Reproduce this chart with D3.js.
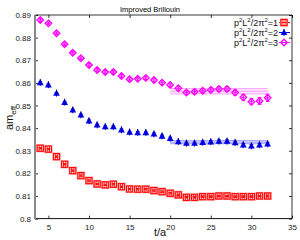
<!DOCTYPE html>
<html><head><meta charset="utf-8">
<script src="https://cdn.jsdelivr.net/npm/d3@7"></script>
<style>body{margin:0;background:#fff}svg{display:block;font-family:"Liberation Sans",Arial,sans-serif}</style>
</head><body><svg id="c" width="300" height="240"></svg>
<script>
const tVals = d3.range(4, 33);
const redVals = [0.8311,0.8307,0.8274,0.8240,0.8212,0.8190,0.8168,0.8153,0.8149,0.8152,0.8141,0.8131,0.8130,0.8130,0.8124,0.8119,0.8112,0.8105,0.8094,0.8094,0.8097,0.8097,0.8100,0.8100,0.8097,0.8097,0.8097,0.8100,0.8100];
const redErr = [0.0003,0.0003,0.0003,0.0003,0.0003,0.0003,0.0003,0.0003,0.0003,0.0003,0.0003,0.0003,0.0003,0.0003,0.0003,0.0003,0.0003,0.0003,0.0003,0.0003,0.0003,0.0003,0.0003,0.0003,0.0003,0.0003,0.0003,0.0003,0.0004];
const blueVals = [0.8601,0.8591,0.8554,0.8514,0.8480,0.8458,0.8432,0.8414,0.8406,0.8406,0.8392,0.8382,0.8380,0.8380,0.8374,0.8365,0.8355,0.8340,0.8333,0.8333,0.8337,0.8339,0.8342,0.8342,0.8336,0.8326,0.8321,0.8326,0.8330];
const blueErr = [0.0004,0.0004,0.0004,0.0004,0.0004,0.0004,0.0004,0.0004,0.0004,0.0004,0.0004,0.0004,0.0004,0.0004,0.0005,0.0005,0.0005,0.0005,0.0005,0.0005,0.0005,0.0005,0.0006,0.0006,0.0006,0.0006,0.0007,0.0007,0.0007];
const magVals = [0.8878,0.8863,0.8819,0.8771,0.8733,0.8709,0.8679,0.8657,0.8648,0.8648,0.8630,0.8616,0.8618,0.8622,0.8613,0.8601,0.8591,0.8576,0.8557,0.8561,0.8565,0.8569,0.8573,0.8573,0.8557,0.8536,0.8517,0.8520,0.8534];
const magErr = [0.0006,0.0006,0.0006,0.0006,0.0006,0.0006,0.0006,0.0006,0.0006,0.0006,0.0007,0.0007,0.0007,0.0007,0.0008,0.0008,0.0008,0.0009,0.0009,0.0009,0.0010,0.0010,0.0011,0.0011,0.0012,0.0013,0.0014,0.0015,0.0016];
const fitRange = [20, 32];
const fitRed = [0.8098, 0.0003];
const fitBlue = [0.8338, 0.0007];
const fitMag = [0.8563, 0.0012];
const xTicks = [5,10,15,20,25,30,35];
const yTicks = [0.80,0.81,0.82,0.83,0.84,0.85,0.86,0.87,0.88,0.89];
const legendLabels = ["1","2","3"];

const svg = d3.select("#c");
const L=35,R=292,T=15,B=218.6;
const x = d3.scaleLinear().domain([3.35,35]).range([L,R]);
const y = d3.scaleLinear().domain([0.80,0.89]).range([B,T]);

svg.append("text").attr("x",150).attr("y",11.5).attr("text-anchor","middle").attr("font-size",7.5).attr("fill","#000").text("Improved Brillouin");

svg.append("line").attr("x1",L).attr("x2",R).attr("y1",T).attr("y2",T).attr("stroke","#000").attr("stroke-width",0.8);
svg.append("line").attr("x1",R).attr("x2",R).attr("y1",T).attr("y2",B).attr("stroke","#000").attr("stroke-width",0.8);

const xa = svg.append("g").attr("transform",`translate(0,${B})`)
  .call(d3.axisBottom(x).tickValues(xTicks).tickSize(-3).tickPadding(6).tickFormat(d3.format("d")));
const xt = svg.append("g").attr("transform",`translate(0,${T})`)
  .call(d3.axisTop(x).tickValues(xTicks).tickSize(-3).tickFormat(""));
const ya = svg.append("g").attr("transform",`translate(${L},0)`)
  .call(d3.axisLeft(y).tickValues(yTicks).tickSize(-3).tickPadding(4).tickFormat(d=>d===0.8?"0.8":d3.format(".2f")(d)));
const yr = svg.append("g").attr("transform",`translate(${R},0)`)
  .call(d3.axisRight(y).tickValues(yTicks).tickSize(-3).tickFormat(""));
[xa,xt,ya,yr].forEach(g=>{g.select(".domain").remove();g.selectAll("text").attr("font-size",8).attr("fill","#222").attr("font-family","Liberation Sans, Arial, sans-serif");g.selectAll("line").attr("stroke","#000").attr("stroke-width",0.8);});
svg.append("line").attr("x1",L).attr("x2",R).attr("y1",B).attr("y2",B).attr("stroke","#111").attr("stroke-width",1);
svg.append("line").attr("x1",L).attr("x2",L).attr("y1",T).attr("y2",B+0.5).attr("stroke","#888").attr("stroke-width",2);

svg.append("text").attr("x",160).attr("y",236).attr("text-anchor","middle").attr("font-size",11).attr("fill","#111").text("t/a");
const yl = svg.append("text").attr("transform","translate(13,118) rotate(-90)").attr("text-anchor","middle").attr("font-size",11).attr("fill","#111");
yl.append("tspan").text("am");
yl.append("tspan").attr("font-size",8).attr("dy",3).text("eff");

function band(fit,col){
  const g=svg.append("g");
  const [c,e]=fit;
  g.append("rect").attr("x",x(fitRange[0])).attr("width",x(fitRange[1])-x(fitRange[0]))
    .attr("y",y(c+e)).attr("height",y(c-e)-y(c+e)).attr("fill",col).attr("opacity",0.1);
  [c-e,c,c+e].forEach(v=>g.append("line").attr("x1",x(fitRange[0])).attr("x2",x(fitRange[1]))
    .attr("y1",y(v)).attr("y2",y(v)).attr("stroke",col).attr("stroke-width",0.8).attr("opacity",0.4));
}
band(fitRed,"#ff0000");band(fitBlue,"#0000ff");band(fitMag,"#ff00ff");

function errbars(vals,errs,col){
  const g=svg.append("g").attr("stroke",col).attr("stroke-width",1);
  vals.forEach((v,i)=>{
    const t=tVals[i], px=x(t);
    g.append("line").attr("x1",px).attr("x2",px).attr("y1",y(v+errs[i])).attr("y2",y(v-errs[i]));
    [v+errs[i],v-errs[i]].forEach(w=>g.append("line").attr("x1",px-1.8).attr("x2",px+1.8).attr("y1",y(w)).attr("y2",y(w)));
  });
}
function square(g,px,py,col){
  g.append("rect").attr("x",px-3.1).attr("y",py-3.1).attr("width",6.2).attr("height",6.2).attr("fill","none").attr("stroke","#ffa0a0").attr("stroke-width",2);
  g.append("rect").attr("x",px-3.1).attr("y",py-3.1).attr("width",6.2).attr("height",6.2).attr("fill","none").attr("stroke",col).attr("stroke-width",1);
  g.append("line").attr("x1",px-1.1).attr("x2",px-1.1).attr("y1",py-2.8).attr("y2",py+2.8).attr("stroke",col).attr("stroke-width",0.8);
  g.append("line").attr("x1",px+1.1).attr("x2",px+1.1).attr("y1",py-2.8).attr("y2",py+2.8).attr("stroke",col).attr("stroke-width",0.8);
}
function tri(g,px,py,col){
  g.append("path").attr("d",`M${px},${py-3.6}L${px+3.4},${py+2.6}L${px-3.4},${py+2.6}Z`).attr("fill",col);
  g.append("line").attr("x1",px).attr("x2",px).attr("y1",py-3.6).attr("y2",py+3.3).attr("stroke","#000090").attr("stroke-width",1);
}
function diamond(g,px,py,col){
  g.append("path").attr("d",`M${px},${py-3.3}L${px+3.3},${py}L${px},${py+3.3}L${px-3.3},${py}Z`).attr("fill","none").attr("stroke",col).attr("stroke-width",1.3);
  g.append("line").attr("x1",px-1.8).attr("x2",px+1.8).attr("y1",py).attr("y2",py).attr("stroke",col).attr("stroke-width",1);
}
errbars(redVals,redErr,"#ff0000");
errbars(blueVals,blueErr,"#0000ff");
errbars(magVals,magErr,"#ff00ff");
const gr=svg.append("g"), gb=svg.append("g"), gm=svg.append("g");
redVals.forEach((v,i)=>square(gr,x(tVals[i]),y(v),"#ff0000"));
blueVals.forEach((v,i)=>tri(gb,x(tVals[i]),y(v),"#0000ff"));
magVals.forEach((v,i)=>diamond(gm,x(tVals[i]),y(v),"#ff00ff"));

const cols=["#ff0000","#0000ff","#ff00ff"], fns=[square,tri,diamond];
legendLabels.forEach((lab,i)=>{
  const ly=22.5+i*10;
  const tx=svg.append("text").attr("x",278).attr("y",ly+3.5).attr("text-anchor","end").attr("font-size",9).attr("fill","#111");
  tx.append("tspan").text("p");
  tx.append("tspan").attr("font-size",6).attr("dy",-4).text("2");
  tx.append("tspan").attr("dy",4).text("L");
  tx.append("tspan").attr("font-size",6).attr("dy",-4).text("2");
  tx.append("tspan").attr("dy",4).text("/2π");
  tx.append("tspan").attr("font-size",6).attr("dy",-4).text("2");
  tx.append("tspan").attr("dy",4).text("="+lab);
  const g=svg.append("g");
  g.append("line").attr("x1",279).attr("x2",290).attr("y1",ly).attr("y2",ly).attr("stroke",cols[i]).attr("stroke-width",1);
  fns[i](g,284,ly,cols[i]);
});
</script></body></html>
